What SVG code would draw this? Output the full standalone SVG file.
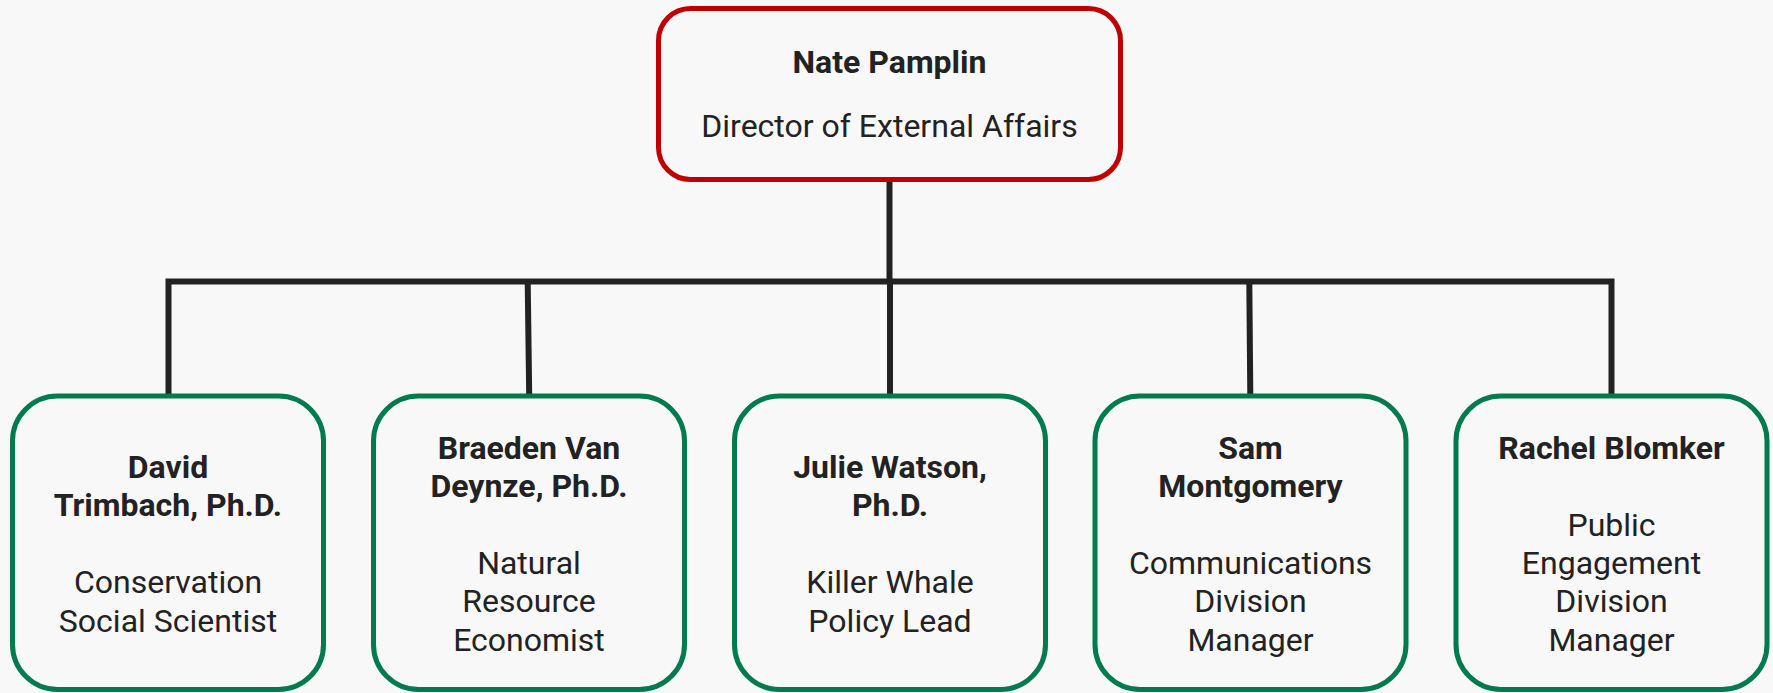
<svg xmlns="http://www.w3.org/2000/svg" width="1773" height="693" viewBox="0 0 1773 693">
<style>
.bg{fill:#f8f8f8}
.top{fill:#f8f8f8;stroke:#c00000;stroke-width:5}
.box{fill:#f8f8f8;stroke:#007a4f;stroke-width:5}
.conn{fill:none;stroke:#222222;stroke-width:6;stroke-linejoin:miter;stroke-linecap:butt}
text{font-family:Roboto,"Liberation Sans",sans-serif;font-size:32px;fill:#222222;text-anchor:middle}
.b{font-weight:bold}
</style>
<rect class="bg" x="0" y="0" width="1773" height="693"/>
<g id="connectors">
<line class="conn" x1="889.5" y1="181" x2="889.5" y2="282"/>
<polyline class="conn" points="168.5,396 168.5,281.5 1611.5,281.5 1611.5,396"/>
<line class="conn" x1="527.7" y1="281.5" x2="529.2" y2="396"/>
<line class="conn" x1="890" y1="281.5" x2="890" y2="396"/>
<line class="conn" x1="1249.3" y1="281.5" x2="1250.3" y2="396"/>
</g>
<g id="n0">
<rect class="top" x="658.5" y="8.5" width="462" height="171" rx="32" ry="32"/>
<text class="b" x="889.5" y="72.7">Nate Pamplin</text>
<text x="889.5" y="136.7">Director of External Affairs</text>
</g>
<g id="n1">
<rect class="box" x="12.5" y="396" width="311" height="293.5" rx="45" ry="45"/>
<text class="b" x="168" y="478">David</text>
<text class="b" x="168" y="516.4">Trimbach, Ph.D.</text>
<text x="168" y="593.2">Conservation</text>
<text x="168" y="631.6">Social Scientist</text>
</g>
<g id="n2">
<rect class="box" x="373.5" y="396" width="311" height="293.5" rx="45" ry="45"/>
<text class="b" x="529" y="458.8">Braeden Van</text>
<text class="b" x="529" y="497.2">Deynze, Ph.D.</text>
<text x="529" y="574">Natural</text>
<text x="529" y="612.4">Resource</text>
<text x="529" y="650.8">Economist</text>
</g>
<g id="n3">
<rect class="box" x="734.5" y="396" width="311" height="293.5" rx="45" ry="45"/>
<text class="b" x="890" y="478">Julie Watson,</text>
<text class="b" x="890" y="516.4">Ph.D.</text>
<text x="890" y="593.2">Killer Whale</text>
<text x="890" y="631.6">Policy Lead</text>
</g>
<g id="n4">
<rect class="box" x="1095" y="396" width="311" height="293.5" rx="45" ry="45"/>
<text class="b" x="1250.5" y="458.8">Sam</text>
<text class="b" x="1250.5" y="497.2">Montgomery</text>
<text x="1250.5" y="574">Communications</text>
<text x="1250.5" y="612.4">Division</text>
<text x="1250.5" y="650.8">Manager</text>
</g>
<g id="n5">
<rect class="box" x="1456" y="396" width="311" height="293.5" rx="45" ry="45"/>
<text class="b" x="1611.5" y="458.8">Rachel Blomker</text>
<text x="1611.5" y="535.6">Public</text>
<text x="1611.5" y="574">Engagement</text>
<text x="1611.5" y="612.4">Division</text>
<text x="1611.5" y="650.8">Manager</text>
</g>
</svg>
